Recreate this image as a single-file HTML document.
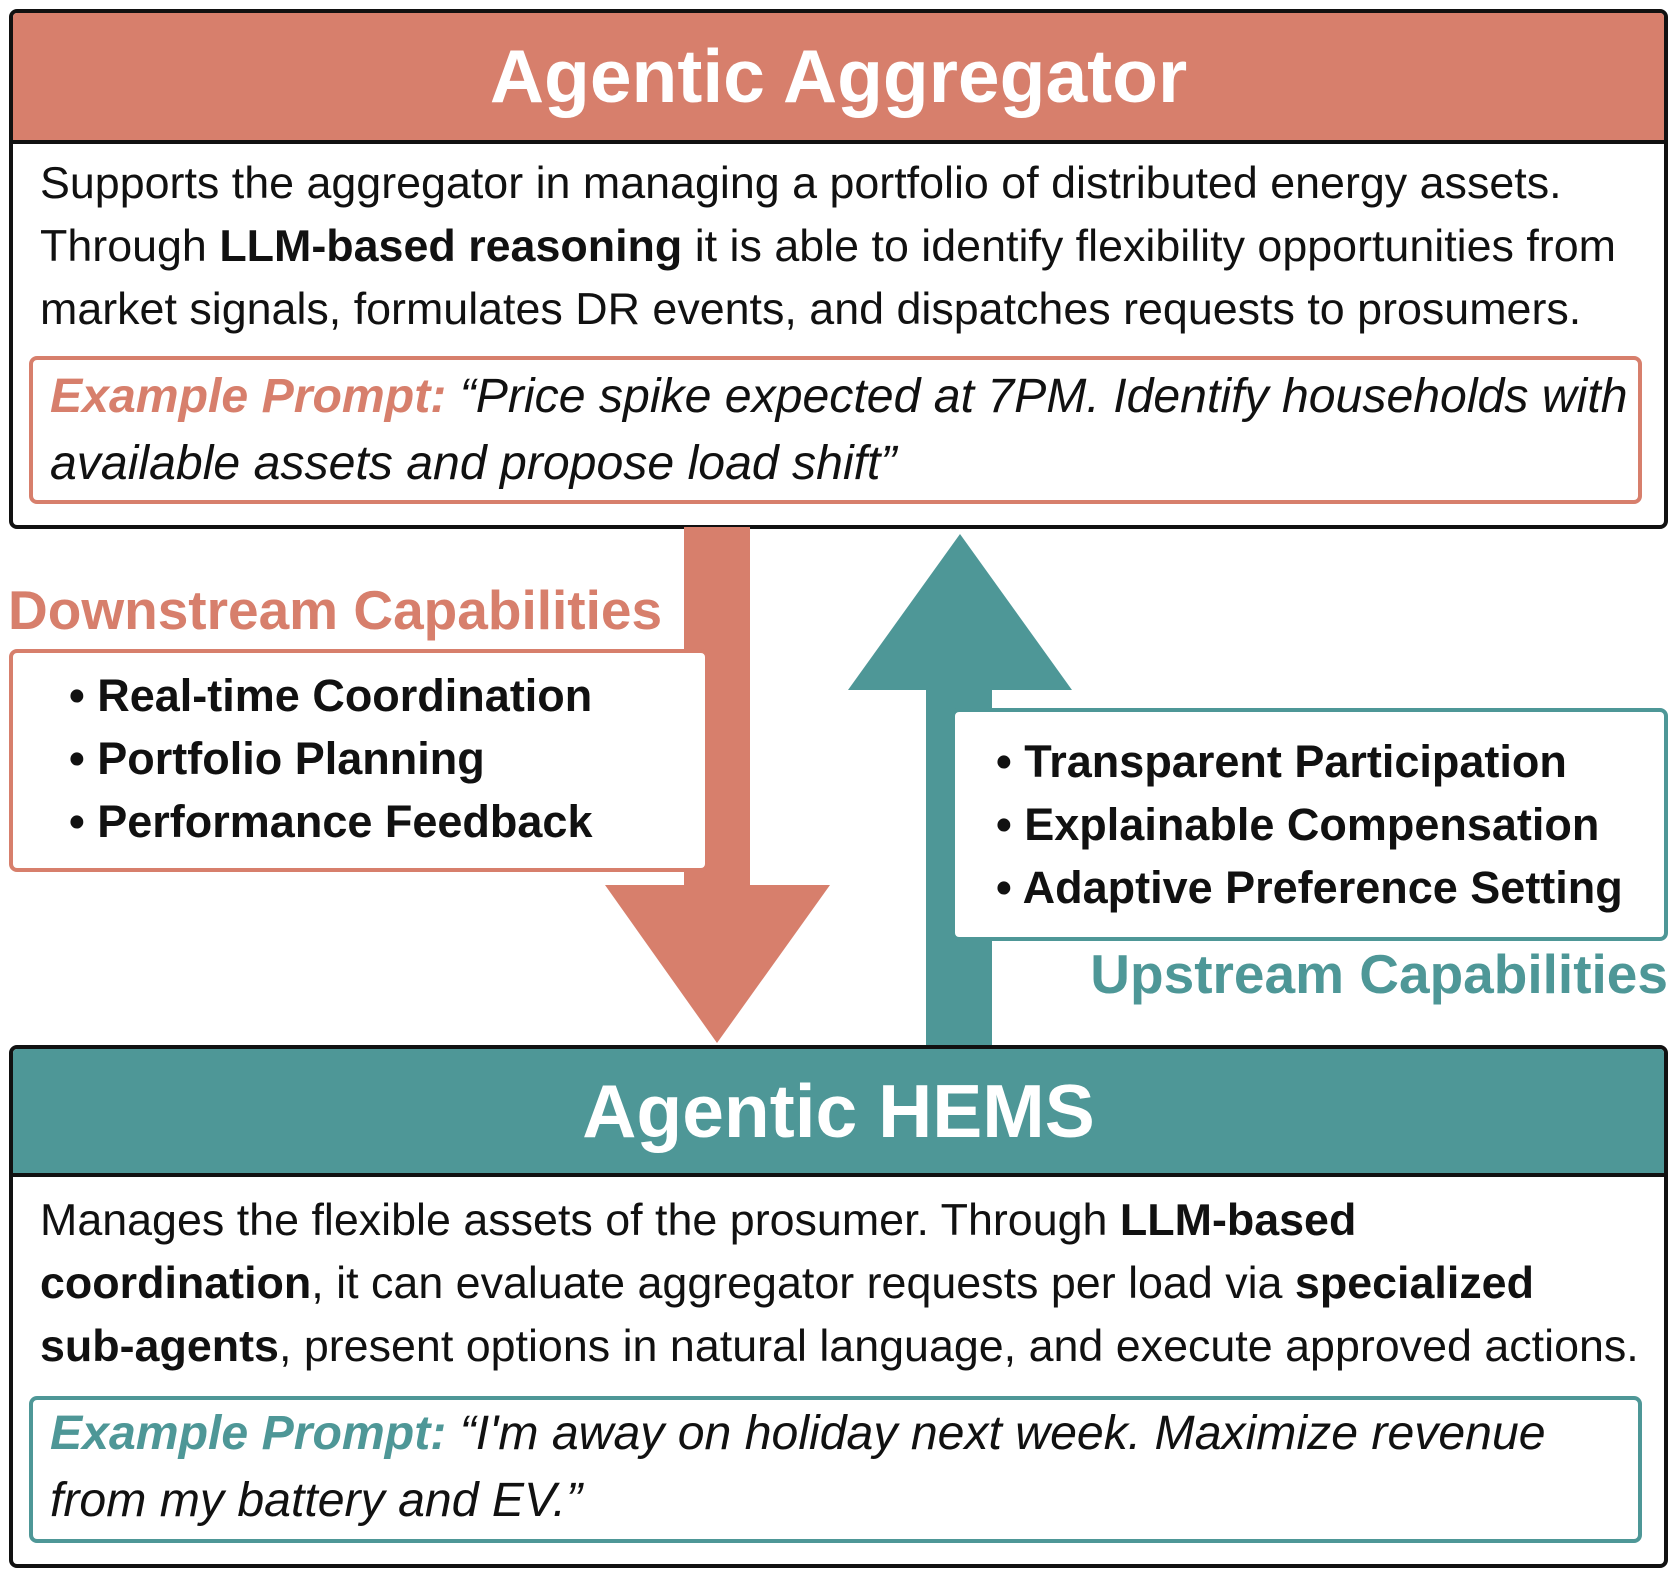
<!DOCTYPE html>
<html><head><meta charset="utf-8"><style>
body{margin:0;width:1676px;height:1577px;background:#fff;position:relative;overflow:hidden;font-family:"Liberation Sans",Arial,sans-serif;color:#111}
.a{position:absolute;white-space:nowrap}
.box{position:absolute;border:4px solid #111;border-radius:8px;background:#fff;box-sizing:border-box;overflow:hidden}
.hdr{position:absolute;left:0;right:0;top:0;color:#fff;font-weight:bold;font-size:75px;text-align:center;border-bottom:4px solid #111}
.pb{position:absolute;border:4px solid;border-radius:8px;box-sizing:border-box}
.t{font-size:44.8px;line-height:63px}
.it{font-style:italic;font-size:48.2px;line-height:67px}
.li{font-weight:bold;font-size:45px;line-height:63px}
</style></head><body>
<div class="box" style="left:9px;top:9px;width:1659px;height:520px">
  <div class="hdr" style="height:127px;line-height:127px;background:#D77F6C">Agentic Aggregator</div>
</div>
<div class="a t" style="left:40px;top:152px">Supports the aggregator in managing a portfolio of distributed energy assets.<br>Through <b>LLM-based reasoning</b> it is able to identify flexibility opportunities from<br>market signals, formulates DR events, and dispatches requests to prosumers.</div>
<div class="pb" style="left:29px;top:356px;width:1613px;height:148px;border-color:#D77F6C"></div>
<div class="a it" style="left:50px;top:363px"><b style="color:#D77F6C">Example Prompt:</b> “Price spike expected at 7PM. Identify households with<br>available assets and propose load shift”</div>

<svg class="a" style="left:0;top:0" width="1676" height="1577">
  <rect x="684" y="527" width="66" height="360" fill="#D77F6C"/>
  <polygon points="605,885 830,885 717,1043" fill="#D77F6C"/>
  <rect x="926" y="688" width="66" height="358" fill="#4E9797"/>
  <polygon points="848,690 1072,690 960,534" fill="#4E9797"/>
</svg>

<div class="a" style="left:8px;top:579px;font-size:55px;font-weight:bold;color:#D77F6C;line-height:62px">Downstream Capabilities</div>
<div class="pb" style="left:9px;top:649px;width:700px;height:223px;border-color:#D77F6C;background:#fff"></div>
<div class="a li" style="left:69px;top:664px">• Real-time Coordination<br>• Portfolio Planning<br>• Performance Feedback</div>

<div class="pb" style="left:951px;top:708px;width:717px;height:233px;border-color:#4E9797;background:#fff"></div>
<div class="a li" style="left:996px;top:730px">• Transparent Participation<br>• Explainable Compensation<br>• Adaptive Preference Setting</div>
<div class="a" style="right:8px;top:943px;font-size:55px;font-weight:bold;color:#4E9797;line-height:62px">Upstream Capabilities</div>

<div class="box" style="left:9px;top:1045px;width:1659px;height:523px">
  <div class="hdr" style="height:124px;line-height:124px;background:#4E9797">Agentic HEMS</div>
</div>
<div class="a t" style="left:40px;top:1189px">Manages the flexible assets of the prosumer. Through <b>LLM-based</b><br><b>coordination</b>, it can evaluate aggregator requests per load via <b>specialized</b><br><b>sub-agents</b>, present options in natural language, and execute approved actions.</div>
<div class="pb" style="left:29px;top:1396px;width:1613px;height:147px;border-color:#4E9797"></div>
<div class="a it" style="left:50px;top:1400px"><b style="color:#4E9797">Example Prompt:</b> “I'm away on holiday next week. Maximize revenue<br>from my battery and EV.”</div>
</body></html>
